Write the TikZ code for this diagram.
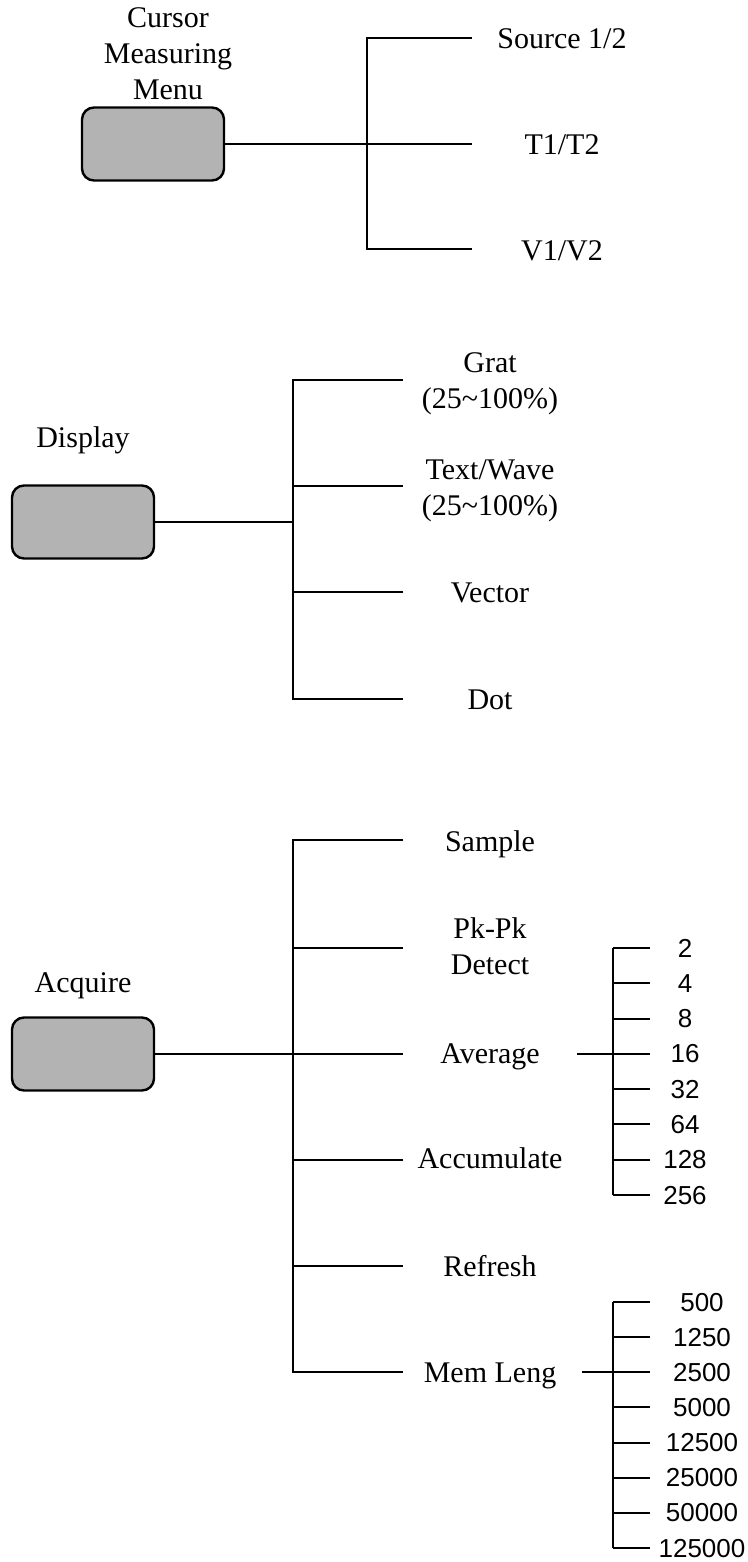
\documentclass[tikz,border=0pt]{standalone}
\usepackage{fontspec}
\setmainfont{Liberation Serif}
\newfontfamily\numfont{Liberation Sans}
\tikzset{
  menukey/.style={draw, line width=1.2pt, fill={rgb, 255:red, 179; green, 179; blue, 179}, rounded corners=6pt, minimum width=71pt, minimum height=36.5pt, inner sep=0pt},
  itemtxt/.style={anchor=base, inner sep=0.75pt, align=center, font=\fontsize{15}{18}\selectfont},
  numtxt/.style={anchor=base, inner sep=0.75pt, font=\numfont\fontsize{13}{15}\selectfont},
  wire/.style={line width=1pt},
}
\begin{document}
\begin{tikzpicture}[x=0.5pt,y=0.5pt,yscale=-1,xscale=1]
\useasboundingbox (0,0) rectangle (748,1562);

%Shape: Cursor Measuring Menu key
\node [menukey] (curkey) at (153,144) {};
\node [itemtxt] (curlbl) at (168,100) {Cursor\\Measuring\\Menu};
\coordinate (curtop) at (367,38);
\coordinate (curbot) at (367,249);
\coordinate (srcend) at (472,38);
\coordinate (tend) at (472,144);
\coordinate (vend) at (472,249);
\node [itemtxt] (src) at (562,49) {Source 1/2};
\node [itemtxt] (tt) at (562,155) {T1/T2};
\node [itemtxt] (vv) at (562,260) {V1/V2};
%Straight Lines
\draw [wire] (srcend) -- (curtop) -- (curbot) -- (vend) ;
\draw [wire] (curkey.east) -- (tend) ;

%Shape: Display key
\node [menukey] (diskey) at (83,522) {};
\node [itemtxt] (dislbl) at (83,447) {Display};
\coordinate (distop) at (293,380);
\coordinate (disbot) at (293,699);
\coordinate (gratend) at (403,380);
\coordinate (wavend) at (403,486);
\coordinate (vecend) at (403,592);
\coordinate (dotend) at (403,699);
\node [itemtxt] (grat) at (490,408) {Grat\\(25\textasciitilde100\%)};
\node [itemtxt] (wave) at (490,515) {Text/Wave\\(25\textasciitilde100\%)};
\node [itemtxt] (vec) at (490,602) {Vector};
\node [itemtxt] (dot) at (490,709) {Dot};
%Straight Lines
\draw [wire] (gratend) -- (distop) -- (disbot) -- (dotend) ;
\draw [wire] (wavend) -- (wavend -| distop) ;
\draw [wire] (vecend) -- (vecend -| distop) ;
\draw [wire] (diskey.east) -- (diskey.east -| distop) ;

%Shape: Acquire key
\node [menukey] (acqkey) at (83,1054) {};
\node [itemtxt] (acqlbl) at (83,992) {Acquire};
\coordinate (acqtop) at (293,840);
\coordinate (acqbot) at (293,1372);
\coordinate (smpend) at (403,840);
\coordinate (pkend) at (403,948);
\coordinate (avgend) at (403,1054);
\coordinate (accend) at (403,1160);
\coordinate (refend) at (403,1266);
\coordinate (memend) at (403,1372);
\node [itemtxt] (smp) at (490,851) {Sample};
\node [itemtxt] (pk) at (490,974) {Pk-Pk\\Detect};
\node [itemtxt] (avg) at (490,1063) {Average};
\node [itemtxt] (acc) at (490,1168) {Accumulate};
\node [itemtxt] (ref) at (490,1276) {Refresh};
\node [itemtxt] (mem) at (490,1382) {Mem Leng};
%Straight Lines
\draw [wire] (smpend) -- (acqtop) -- (acqbot) -- (memend) ;
\draw [wire] (pkend) -- (pkend -| acqtop) ;
\draw [wire] (avgend) -- (avgend -| acqtop) ;
\draw [wire] (accend) -- (accend -| acqtop) ;
\draw [wire] (refend) -- (refend -| acqtop) ;
\draw [wire] (acqkey.east) -- (acqkey.east -| acqtop) ;

% Average counts
\coordinate (avgin) at (577,1054);
\coordinate (avgtop) at (613,948);
\coordinate (avgbot) at (613,1195);
\foreach \v [count=\i from 0] in {2,4,8,16,32,64,128,256} {
  \coordinate (avgpt\i) at (650,948+35.29*\i);
  \node [numtxt] (avgnum\i) at (685,957+35.29*\i) {\v};
  \draw [wire] (avgpt\i) -- (avgpt\i -| avgtop) ;
}
\draw [wire] (avgtop) -- (avgbot) ;
\draw [wire] (avgin) -- (avgin -| avgtop) ;

% Memory lengths
\coordinate (memin) at (582,1372);
\coordinate (memtop) at (613,1302);
\coordinate (membot) at (613,1548);
\foreach \v [count=\i from 0] in {500,1250,2500,5000,12500,25000,50000,125000} {
  \coordinate (mempt\i) at (650,1302+35.14*\i);
  \node [numtxt] (memnum\i) at (702,1311+35.14*\i) {\v};
  \draw [wire] (mempt\i) -- (mempt\i -| memtop) ;
}
\draw [wire] (memtop) -- (membot) ;
\draw [wire] (memin) -- (memin -| memtop) ;
\end{tikzpicture}
\end{document}
